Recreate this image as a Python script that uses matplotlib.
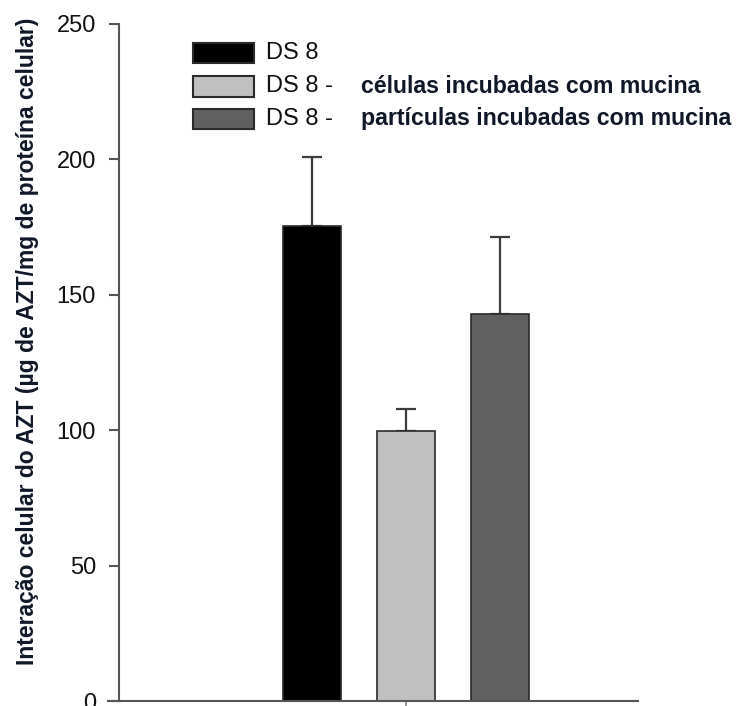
import matplotlib
matplotlib.use("Agg")
import matplotlib.pyplot as plt
from matplotlib.patches import Rectangle

plt.rcParams['font.family'] = ['Liberation Sans', 'DejaVu Sans']

# ---- data ----
categories = ["DS 8", "DS 8 - células incubadas com mucina", "DS 8 - partículas incubadas com mucina"]
values = [175.5, 99.7, 143.0]
errors = [25.3, 8.1, 28.5]
bar_colors = ["#000000", "#c0c0c0", "#606060"]
legend_prefix = ["DS 8", "DS 8 -", "DS 8 -"]
legend_suffix = ["", "células incubadas com mucina", "partículas incubadas com mucina"]
yticks = [0, 50, 100, 150, 200, 250]
ylabel = "Interação celular do AZT (µg de AZT/mg de proteína celular)"

W, H = 742, 706
fig = plt.figure(figsize=(W / 100, H / 100), dpi=100)

def fx(px):
    return px / W

def fy(py):
    return 1 - py / H

ax_left, ax_right = 108, 638
ax_bottom, ax_top = 701, 24
ax = fig.add_axes([fx(ax_left), fy(ax_bottom), fx(ax_right - ax_left), (ax_bottom - ax_top) / H])

x = [1, 2, 3]
unit = 94.0
ax.set_xlim(1 - (312 - ax_left) / unit, 1 + (ax_right - 312) / unit)
ax.set_ylim(0, 250)

ax.bar(x, values, width=0.61, color=bar_colors, edgecolor="#2a2a2a", linewidth=1.2, zorder=2)
ax.errorbar(x, values, yerr=[[0, 0, 0], errors], fmt="none", ecolor="#3c3c3c",
            elinewidth=1.6, capsize=7.5, capthick=1.6, zorder=1)

for s in ["top", "right"]:
    ax.spines[s].set_visible(False)
ax.spines["left"].set_position(("axes", (119 - ax_left) / (ax_right - ax_left)))
ax.spines["left"].set_bounds(0, 250)
for s in ["left", "bottom"]:
    ax.spines[s].set_color("#555555")
    ax.spines[s].set_linewidth(1.5)

ax.set_yticks(yticks)
ax.set_yticklabels([str(t) for t in yticks])
ax.tick_params(axis="y", direction="out", length=7.5, width=1.5, color="#555555",
               labelsize=17, pad=9, labelcolor="#111111")
ax.set_xticks([2])
ax.set_xticklabels([""])
ax.tick_params(axis="x", direction="out", length=7, width=1.2, color="#888888")
ax.patch.set_alpha(0)

fig.text(fx(28), fy(341), ylabel, rotation=90, ha="center", va="center",
         fontsize=16.5, fontweight="bold", color="#101828")

# ---- legend ----
box_y = [53, 86.5, 119]
for i in range(3):
    r = Rectangle((fx(193), fy(box_y[i] + 10)), fx(61), 20 / H, transform=fig.transFigure,
                  facecolor=bar_colors[i], edgecolor="#2a2a2a", linewidth=1.5)
    fig.patches.append(r)
    fig.text(fx(266), fy(box_y[i]), legend_prefix[i], ha="left", va="center",
             fontsize=17, color="#111111")
    if legend_suffix[i]:
        fig.text(fx(361), fy(box_y[i]), legend_suffix[i], ha="left", va="center",
                 fontsize=16.7, fontweight="bold", color="#101828")

fig.savefig("out.png", dpi=100)
